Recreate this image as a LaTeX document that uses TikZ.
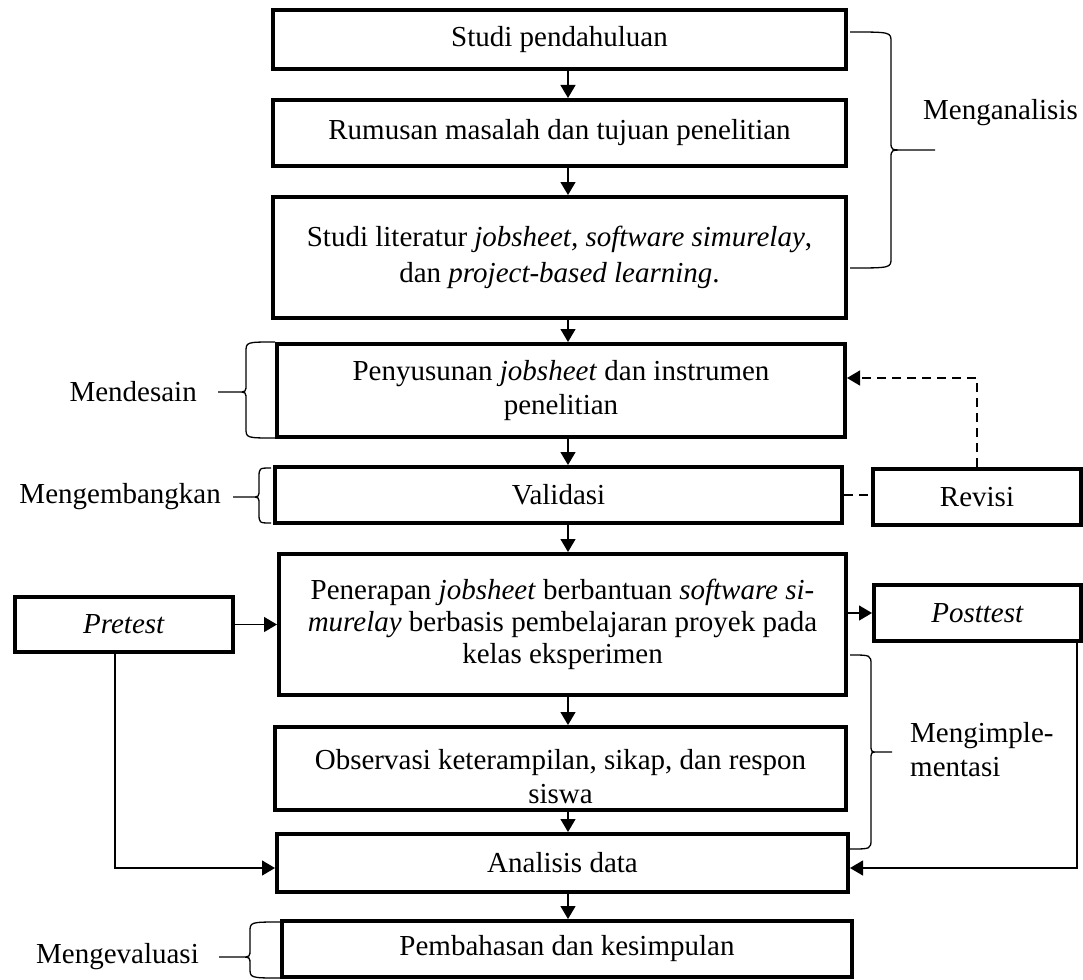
\documentclass[tikz,border=0pt]{standalone}
\usepackage{fontspec}
\setmainfont{Liberation Serif}
\usepackage{tikz}
\usetikzlibrary{positioning, arrows.meta, calc}
\tikzset{
    mainbox/.style={rectangle, draw, line width=4pt, align=center, inner sep=2pt},
    testbox/.style={mainbox, minimum width=208pt, minimum height=56pt},
    phase/.style={inner sep=0pt, align=left},
    flow/.style={line width=1.3pt, -{Triangle[length=13pt, width=15pt]}},
    back/.style={line width=1.3pt, dash pattern=on 9pt off 6pt},
    brc/.style={line width=1.3pt}
}
% curly bracket: base x, spine x, tip x, top y, middle y, bottom y
\newcommand{\wbrace}[6]{%
  \draw[brc] (#1,#4) .. controls (#2,#4) and (#2,#4) .. (#2,{#4+10})
    -- (#2,{#5-8}) .. controls (#2,#5) and (#2,#5) .. ({#2+0.3*(#3-#2)},#5) -- (#3,#5)
    ({#2+0.3*(#3-#2)},#5) .. controls (#2,#5) and (#2,#5) .. (#2,{#5+8})
    -- (#2,{#6-10}) .. controls (#2,#6) and (#2,#6) .. (#1,#6);}

\begin{document}
\begin{tikzpicture}[x=1pt, y=-1pt, font=\fontsize{29}{34}\selectfont]
    \useasboundingbox (0,0) rectangle (1083,979);

    % main column
    \node[mainbox, minimum width=573pt, minimum height=59pt] (b1) at (559.5,39.5) {Studi pendahuluan};
    \node[mainbox, minimum width=573pt, minimum height=66pt] (b2) at (559.5,133) {Rumusan masalah dan tujuan penelitian};
    \node[mainbox, minimum width=573pt, minimum height=121pt] (b3) at (559.5,257.5)
        {Studi literatur \textit{jobsheet, software simurelay}, \\[2pt] dan \textit{project-based learning}.};
    \node[mainbox, minimum width=568pt, minimum height=93pt] (b4) at (561,390.5)
        {Penyusunan \textit{jobsheet} dan instrumen \\ penelitian};
    \node[mainbox, minimum width=567pt, minimum height=56pt] (b5) at (558.5,495) {Validasi};
    \node[mainbox, minimum width=567pt, minimum height=141pt] (b6) at (562.5,624.5)
        {Penerapan \textit{jobsheet} berbantuan \textit{software si-} \\[-2pt]
         \textit{murelay} berbasis pembelajaran proyek pada \\[-2pt] kelas eksperimen};
    \node[mainbox, minimum width=571pt, minimum height=83pt] (b7) at (560.5,768.5)
        {\rule{0pt}{36pt}Observasi keterampilan, sikap, dan respon \\ siswa};
    \node[mainbox, minimum width=571pt, minimum height=58pt] (b8) at (562.5,863) {Analisis data};
    \node[mainbox, minimum width=570pt, minimum height=56pt] (b9) at (567,949) {Pembahasan dan kesimpulan};

    % side boxes
    \node[testbox] (rev) at (977,497) {Revisi};
    \node[testbox, minimum width=218pt, minimum height=55pt] (pre) at (124,624.5) {\textit{Pretest}};
    \node[testbox, minimum width=207pt] (post) at (977.5,613) {\textit{Posttest}};

    \coordinate (ax) at (568,0);
    \coordinate (px) at (115,0);
    \coordinate (qx) at (1077,0);

    % arrows
    \draw[flow] (b1.south -| ax) -- (b2.north -| ax);
    \draw[flow] (b2.south -| ax) -- (b3.north -| ax);
    \draw[flow] (b3.south -| ax) -- (b4.north -| ax);
    \draw[flow] (b4.south -| ax) -- (b5.north -| ax);
    \draw[flow] (b5.south -| ax) -- (b6.north -| ax);
    \draw[flow] (b6.south -| ax) -- (b7.north -| ax);
    \draw[flow] (b7.south -| ax) -- (b8.north -| ax);
    \draw[flow] (b8.south -| ax) -- (b9.north -| ax);

    \draw[flow] (pre.east) -- (b6.west |- pre.east);
    \draw[flow] (b6.east |- post.west) -- (post.west);
    \draw[flow] (pre.south -| px) |- ([yshift=-5pt]b8.west);
    \draw[flow] (post.south -| qx) |- ([yshift=-5pt]b8.east);

    % revision loop
    \draw[back] (b5.east) -- (b5.east -| rev.west);
    \draw[back, -{Triangle[length=13pt, width=15pt]}] (rev.north) |- ([yshift=12.5pt]b4.east);

    % phases
    \wbrace{850}{891}{935}{32}{150}{268}
    \node[phase, anchor=west] (analisis) at (923,113) {Menganalisis};
    \wbrace{275}{246}{218}{342}{392}{438}
    \node[phase, anchor=east] (desain) at (197,392) {Mendesain};
    \wbrace{271}{259}{233}{468}{497}{523}
    \node[phase, anchor=east] (kembang) at (221,497) {Mengembangkan};
    \wbrace{850}{871}{892}{655}{752}{849}
    \node[phase, anchor=west] (implementasi) at (910,750) {Mengimple-\\mentasi};
    \wbrace{281}{250}{219}{922}{957}{978}
    \node[phase, anchor=east] (evaluasi) at (199,957) {Mengevaluasi};
\end{tikzpicture}
\end{document}
